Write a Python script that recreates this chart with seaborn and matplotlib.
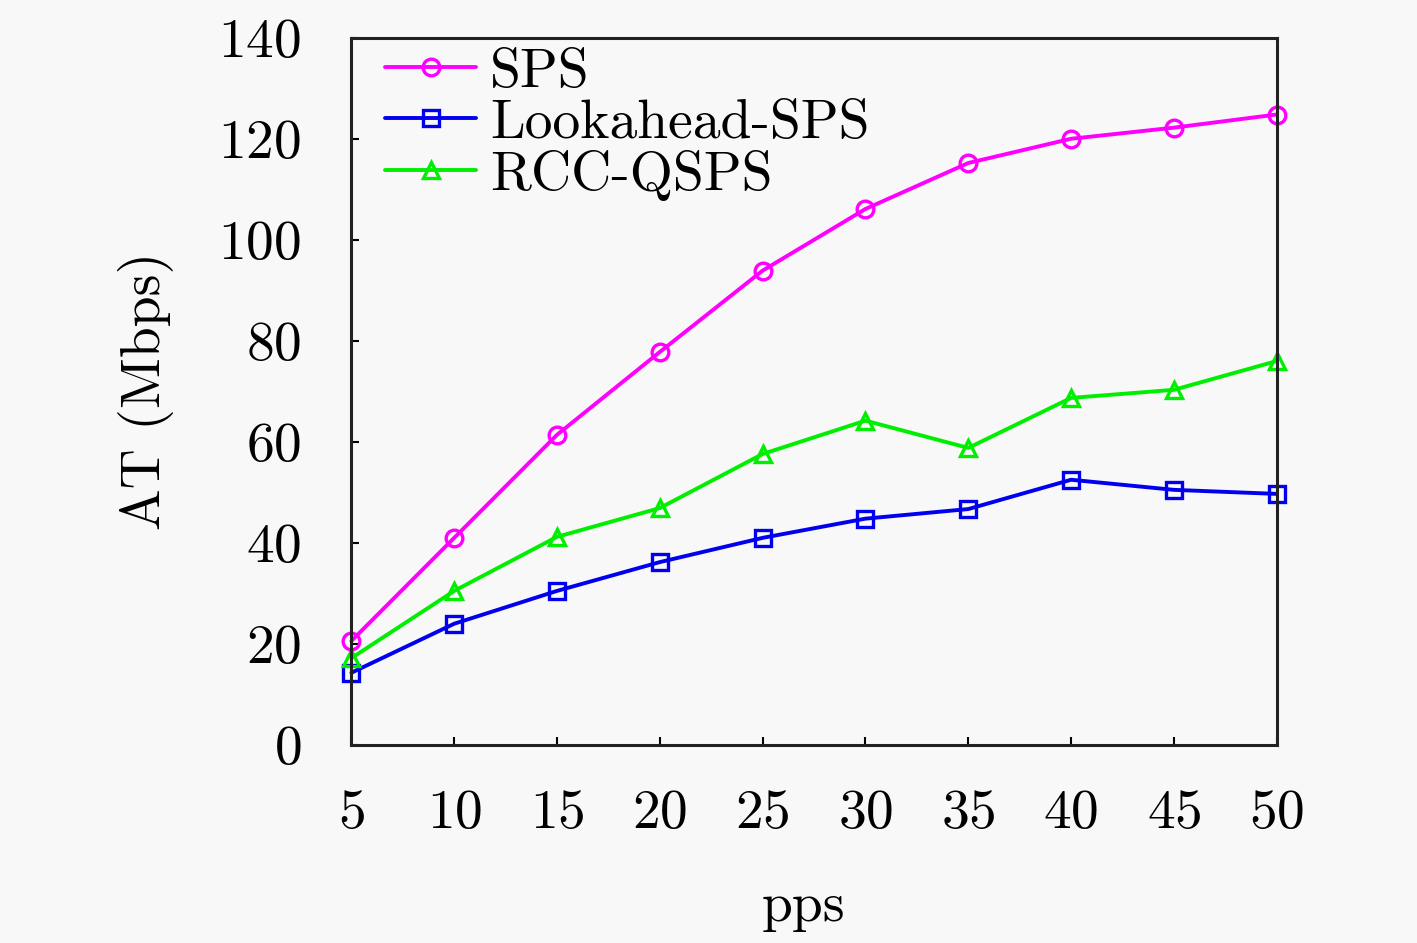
import matplotlib
matplotlib.use("Agg")
import matplotlib.pyplot as plt
import pandas as pd
import seaborn as sns

pps = [5, 10, 15, 20, 25, 30, 35, 40, 45, 50]
sps = [20.6, 41.0, 61.4, 77.8, 93.9, 106.1, 115.2, 120.0, 122.2, 124.8]
lookahead_sps = [14.3, 24.0, 30.5, 36.2, 41.0, 44.8, 46.7, 52.5, 50.5, 49.7]
rcc_qsps = [17.2, 30.5, 41.2, 46.9, 57.6, 64.2, 58.8, 68.7, 70.3, 76.0]

series = [
    ("SPS", sps, "#ff00ff", "o"),
    ("Lookahead-SPS", lookahead_sps, "#0000ee", "s"),
    ("RCC-QSPS", rcc_qsps, "#00ee00", "^"),
]

sns.set_theme(style="ticks")
plt.rcParams["font.family"] = ["cmr10"]
plt.rcParams["axes.formatter.use_mathtext"] = True
plt.rcParams["mathtext.fontset"] = "cm"
for key in ["text.color", "axes.labelcolor", "xtick.color", "ytick.color"]:
    plt.rcParams[key] = "black"

fig = plt.figure(figsize=(14.17, 9.43), dpi=100, facecolor="#f8f8f8")
ax = fig.add_axes([0.248, 0.210, 0.653, 0.750])
ax.set_facecolor("#f8f8f8")

for name, vals, color, marker in series:
    df = pd.DataFrame({"pps": pps, "AT": vals})
    sns.lineplot(data=df, x="pps", y="AT", ax=ax, color=color, marker=marker,
                 markersize=12, markerfacecolor="none", markeredgecolor=color,
                 markeredgewidth=2.4, linewidth=2.8, label=name, clip_on=False)

ax.set_xlim(5, 50)
ax.set_ylim(0, 140)
ax.set_xticks(pps)
ax.set_yticks(range(0, 141, 20))
ax.tick_params(direction="in", length=6, width=1.5, labelsize=40, pad=32)
ax.tick_params(axis="y", pad=36)
for sp in ax.spines.values():
    sp.set_linewidth(2.2)
    sp.set_color("#222222")

ax.set_xlabel("pps", fontsize=40, labelpad=26)
ax.set_ylabel("AT (Mbps)", fontsize=40, labelpad=32)
ax.xaxis.set_label_coords(0.488, -0.195)

leg = ax.legend(loc="upper left", frameon=False, fontsize=40, handlelength=1.65,
                handletextpad=0.25, labelspacing=0.02, borderaxespad=0.1,
                bbox_to_anchor=(0.006, 1.025))

fig.savefig("out.png", dpi=100, facecolor=fig.get_facecolor())
